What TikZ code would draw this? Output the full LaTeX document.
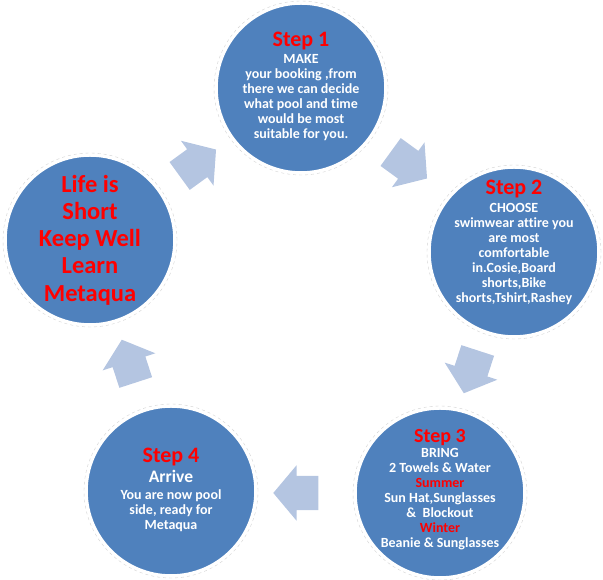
\documentclass[tikz,border=0pt]{standalone}
\usepackage{fontspec}
\setmainfont{Carlito}[Ligatures=NoCommon]
\usetikzlibrary{shapes.arrows}
\definecolor{stepblue}{RGB}{79,129,189}
\definecolor{arrowblue}{RGB}{180,197,225}
\definecolor{stepred}{RGB}{255,0,0}
\newcommand{\ttlfont}{\fontsize{22}{22}\selectfont\color{stepred}}
\newcommand{\ttlsmall}{\fontsize{20}{20}\selectfont\color{stepred}}
\begin{document}
\begin{tikzpicture}[x=1pt,y=1pt,
  stepcircle/.style={circle, fill=stepblue, draw=white, line width=1.5pt, minimum size=168pt, inner sep=0pt},
  ringline/.style={draw=gray!35, dashed, line width=0.4pt},
  steptext/.style={align=center, text=white, font=\bfseries\fontsize{14}{15}\selectfont, inner sep=0pt},
  mottotext/.style={align=center, text=stepred, font=\bfseries\fontsize{24.5}{27.3}\selectfont, inner sep=0pt},
  flowarrow/.style={single arrow, fill=arrowblue, draw=none, minimum height=45pt,
    inner xsep=0pt, inner ysep=17pt,
    single arrow head extend=10.5pt, single arrow tip angle=100}]
\useasboundingbox (0,0) rectangle (603,580);

% circles
\node[stepcircle] (s1) at (301,492) {};
\node[stepcircle] (s2) at (514,328) {};
\node[stepcircle] (s3) at (440,87) {};
\node[stepcircle] (s4) at (171,89) {};
\node[stepcircle] (s5) at (90,340) {};
\foreach \c in {s1,s2,s3,s4,s5} \draw[ringline] (\c.center) circle (87pt);

% arrows
\node[flowarrow, rotate=-36] (a1) at (403,419) {};
\node[flowarrow, rotate=-108] (a2) at (473,215) {};
\node[flowarrow, rotate=180] (a3) at (303,87) {};
\node[flowarrow, rotate=108] (a4) at (131,212) {};
\node[flowarrow, rotate=36] (a5) at (192,413) {};

% texts
\node[steptext] (t1) at (301,494) {{\ttlfont Step 1}\\[2pt] MAKE\\ your booking ,from\\ there we can decide\\ what pool and time\\ would be most\\ suitable for you.};
\node[steptext] (t2) at (514,338) {{\ttlfont Step 2}\\[3pt] CHOOSE\\ swimwear attire you\\ are most\\ comfortable\\ in.Cosie,Board\\ shorts,Bike\\ shorts,Tshirt,Rashey};
\node[steptext] (t3) at (440,90) {{\ttlsmall Step 3}\\ BRING\\ 2 Towels \& Water\\ {\color{stepred}Summer}\\ Sun Hat,Sunglasses\\ \&\ \ Blockout\\ {\color{stepred}Winter}\\ Beanie \& Sunglasses};
\node[steptext] (t4) at (171,90) {{\ttlfont Step 4}\\[4pt] {\fontsize{17.5}{18}\selectfont Arrive}\\[2pt] You are now pool\\ side, ready for\\ Metaqua};
\node[mottotext] (t5) at (90,340) {Life is\\ Short\\ Keep Well\\ Learn\\ Metaqua};
\end{tikzpicture}
\end{document}
